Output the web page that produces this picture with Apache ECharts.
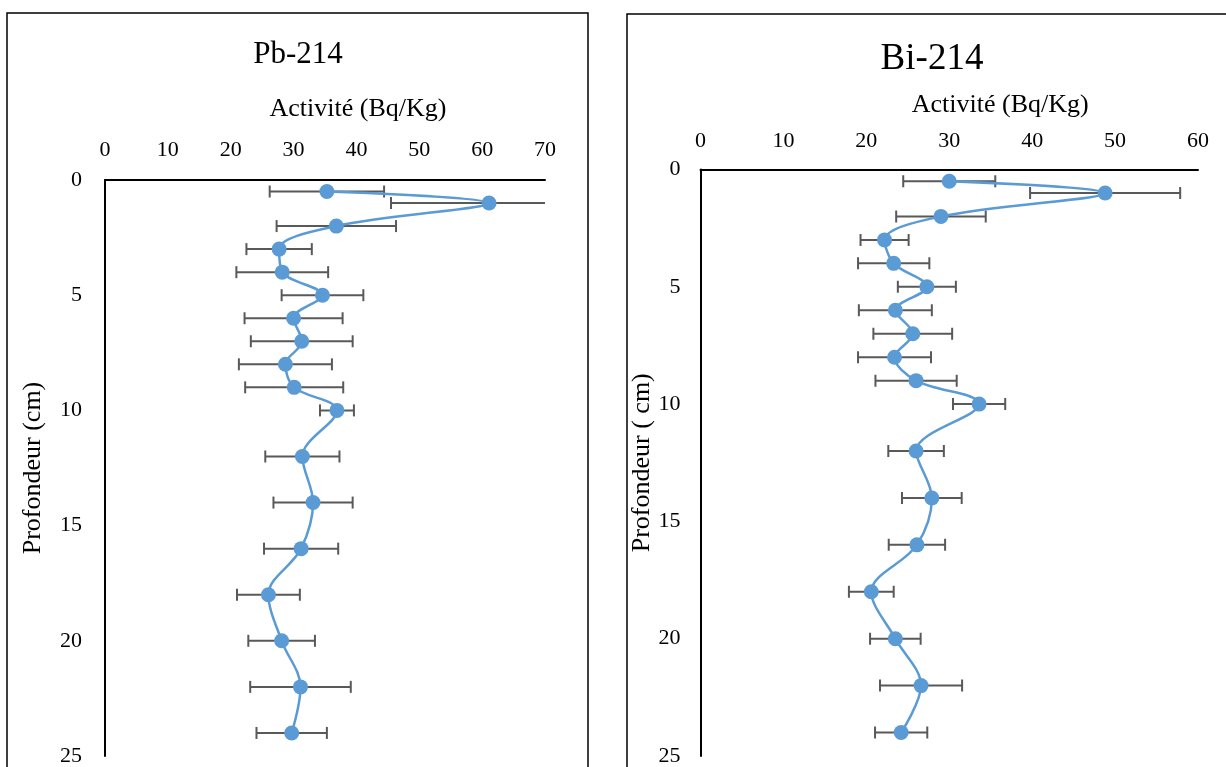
<!DOCTYPE html>
<html>
<head>
<meta charset="utf-8">
<script src="https://cdn.jsdelivr.net/npm/echarts@6/dist/echarts.min.js"></script>
<style>
  html, body { margin: 0; padding: 0; background: #fff; }
  #chart { width: 1226px; height: 767px; }
</style>
</head>
<body>
<div id="chart"></div>
<script>
// ---- Data ----
const depths   = [0.5, 1, 2, 3, 4, 5, 6, 7, 8, 9, 10, 12, 14, 16, 18, 20, 22, 24];
const pbValues = [35.3, 61.1, 36.8, 27.7, 28.2, 34.6, 30.0, 31.3, 28.7, 30.1, 36.9, 31.4, 33.1, 31.2, 26.0, 28.1, 31.1, 29.7];
const pbErrors = [9.1, 15.6, 9.5, 5.2, 7.3, 6.5, 7.8, 8.1, 7.4, 7.8, 2.7, 5.9, 6.3, 5.9, 5.0, 5.3, 8.0, 5.6];
const biValues = [30.0, 48.8, 29.0, 22.2, 23.3, 27.3, 23.5, 25.6, 23.4, 26.0, 33.6, 26.0, 27.9, 26.1, 20.6, 23.5, 26.6, 24.2];
const biErrors = [5.55, 9.05, 5.4, 2.9, 4.3, 3.5, 4.4, 4.75, 4.4, 4.9, 3.15, 3.35, 3.6, 3.4, 2.7, 3.05, 4.95, 3.15];
const titles = ['Pb-214', 'Bi-214'];
const xNames = ['Activité (Bq/Kg)', 'Activité (Bq/Kg)'];
const yNames = ['Profondeur (cm)', 'Profondeur ( cm)'];
const xMax = [70, 60];
const yMax = 25;

const FONT = '"Liberation Serif", "Times New Roman", serif';
const BLUE = '#5B9BD5';
const ERR = '#595959';

function pairs(vals) { return vals.map((v, i) => [v, depths[i]]); }
function errData(vals, errs) { return vals.map((v, i) => [v - errs[i], v + errs[i], depths[i]]); }

function errorRender(params, api) {
  const lo = api.coord([api.value(0), api.value(2)]);
  const hi = api.coord([api.value(1), api.value(2)]);
  const c = 6;
  const st = { stroke: ERR, lineWidth: 2 };
  return {
    type: 'group',
    children: [
      { type: 'line', shape: { x1: lo[0], y1: lo[1], x2: hi[0], y2: hi[1] }, style: st },
      { type: 'line', shape: { x1: lo[0], y1: lo[1] - c, x2: lo[0], y2: lo[1] + c }, style: st },
      { type: 'line', shape: { x1: hi[0], y1: hi[1] - c, x2: hi[0], y2: hi[1] + c }, style: st }
    ]
  };
}

function xAxisCfg(idx, max, labelMargin, nameGap, namePadLeft) {
  return {
    type: 'value', gridIndex: idx, position: 'top', min: 0, max: max, interval: 10,
    name: xNames[idx], nameLocation: 'middle', nameGap: nameGap, nameMoveOverlap: false,
    nameTextStyle: { fontFamily: FONT, fontSize: 26, color: '#000', padding: [0, 0, 0, namePadLeft] },
    axisLine: { show: true, onZero: false, lineStyle: { color: '#000', width: 2 } },
    axisTick: { show: false },
    splitLine: { show: false },
    axisLabel: { fontFamily: FONT, fontSize: 22, color: '#000', margin: labelMargin }
  };
}
function yAxisCfg(idx, labelMargin, nameGap) {
  return {
    type: 'value', gridIndex: idx, inverse: true, min: 0, max: yMax, interval: 5,
    name: yNames[idx], nameLocation: 'middle', nameGap: nameGap, nameMoveOverlap: false,
    nameTextStyle: { fontFamily: FONT, fontSize: 26, color: '#000' },
    axisLine: { show: true, onZero: false, lineStyle: { color: '#000', width: 2 } },
    axisTick: { show: false },
    splitLine: { show: false },
    axisLabel: { fontFamily: FONT, fontSize: 22, color: '#000', margin: labelMargin }
  };
}

const chart = echarts.init(document.getElementById('chart'), null, { renderer: 'canvas' });
chart.setOption({
  animation: false,
  backgroundColor: '#fff',
  graphic: [
    { type: 'rect', shape: { x: 7, y: 13, width: 581, height: 800 }, style: { fill: 'none', stroke: '#000', lineWidth: 1.5 }, z: -10 },
    { type: 'rect', shape: { x: 627, y: 14, width: 640, height: 800 }, style: { fill: 'none', stroke: '#000', lineWidth: 1.5 }, z: -10 }
  ],
  title: [
    { text: titles[0], left: 298, top: 39, textAlign: 'center', padding: 0,
      textStyle: { fontFamily: FONT, fontSize: 31, fontWeight: 'normal', color: '#000' } },
    { text: titles[1], left: 932, top: 41, textAlign: 'center', padding: 0,
      textStyle: { fontFamily: FONT, fontSize: 37, fontWeight: 'normal', color: '#000' } }
  ],
  grid: [
    { left: 105, top: 180, width: 440, height: 576, containLabel: false },
    { left: 700.5, top: 169.5, width: 497.5, height: 590.5, containLabel: false }
  ],
  xAxis: [ xAxisCfg(0, xMax[0], 19, 58, 66), xAxisCfg(1, xMax[1], 17, 51, 102) ],
  yAxis: [ yAxisCfg(0, 23, 59), yAxisCfg(1, 20, 45) ],
  series: [
    { type: 'custom', xAxisIndex: 0, yAxisIndex: 0, clip: true, renderItem: errorRender,
      data: errData(pbValues, pbErrors), encode: { x: [0, 1], y: 2 }, z: 1 },
    { type: 'line', xAxisIndex: 0, yAxisIndex: 0, data: pairs(pbValues), smooth: 0.35,
      symbol: 'circle', symbolSize: 15, itemStyle: { color: BLUE }, lineStyle: { color: BLUE, width: 2.5 }, z: 3 },
    { type: 'custom', xAxisIndex: 1, yAxisIndex: 1, clip: true, renderItem: errorRender,
      data: errData(biValues, biErrors), encode: { x: [0, 1], y: 2 }, z: 1 },
    { type: 'line', xAxisIndex: 1, yAxisIndex: 1, data: pairs(biValues), smooth: 0.35,
      symbol: 'circle', symbolSize: 15, itemStyle: { color: BLUE }, lineStyle: { color: BLUE, width: 2.5 }, z: 3 }
  ]
});
</script>
</body>
</html>
